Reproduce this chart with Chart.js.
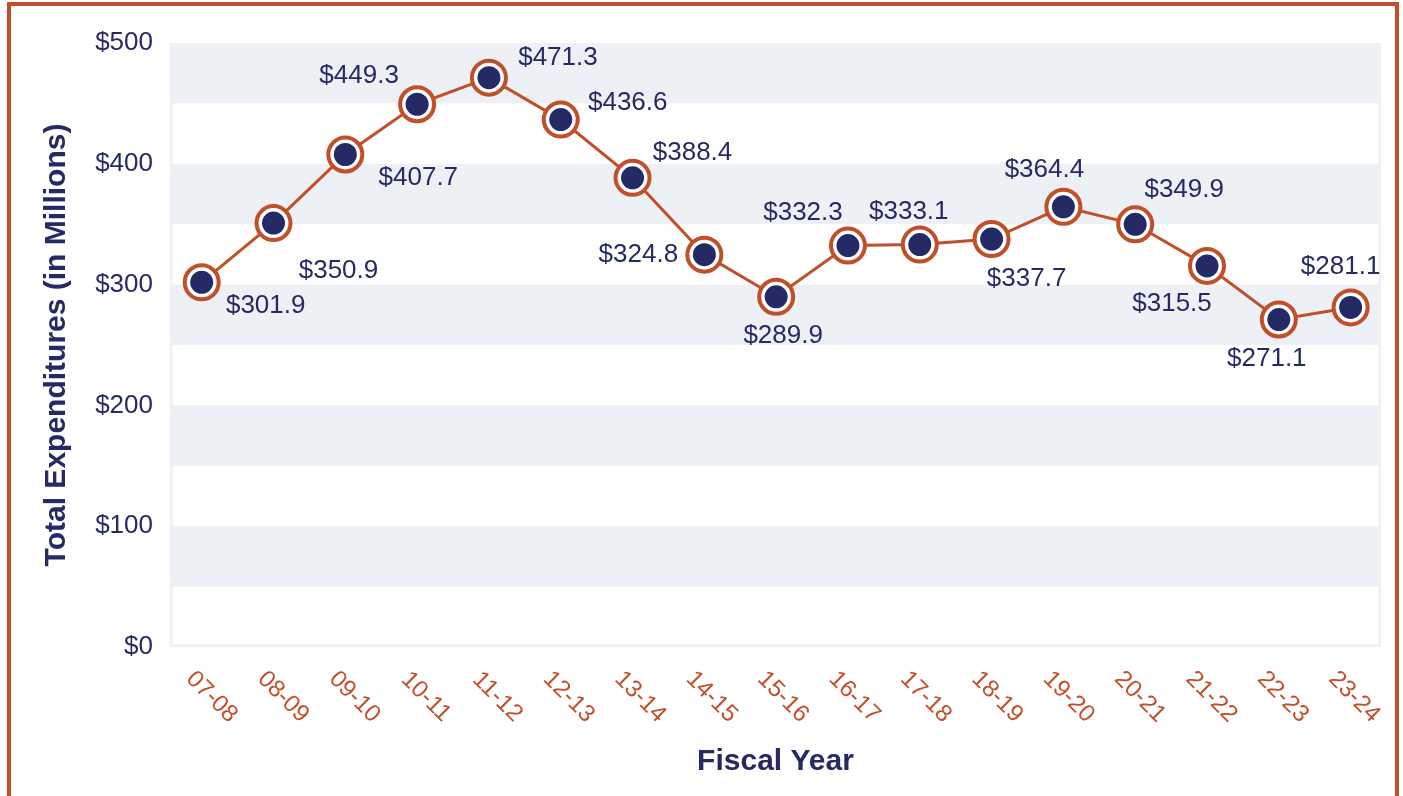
<!DOCTYPE html>
<html>
<head>
<meta charset="utf-8">
<script src="https://cdn.jsdelivr.net/npm/chart.js@4.4.1/dist/chart.umd.min.js"></script>
<style>
  html, body { margin: 0; padding: 0; overflow: hidden; background: #fff; }
  #frame { position: absolute; left: 7px; top: 2px; width: 1384px; height: 900px; border: 4px solid #c14f29; }
  #wrap { position: absolute; left: 0; top: 0; width: 1403px; height: 796px; }
</style>
</head>
<body>
<div id="frame"></div>
<div id="wrap"><canvas id="grafico"></canvas></div>
<script>
const anos = ['07-08', '08-09', '09-10', '10-11', '11-12', '12-13', '13-14', '14-15', '15-16',
              '16-17', '17-18', '18-19', '19-20', '20-21', '21-22', '22-23', '23-24'];
const gastos = [301.9, 350.9, 407.7, 449.3, 471.3, 436.6, 388.4, 324.8, 289.9,
                332.3, 333.1, 337.7, 364.4, 349.9, 315.5, 271.1, 281.1];
const valoresY = [0, 100, 200, 300, 400, 500];

// where each value label sits relative to its point (px)
const posRotulos = [[64, 24], [65, 48], [73, 23], [-58, -28], [69, -20], [67, -17], [60, -25],
                    [-66, 0], [7, 39], [-45, -33], [-11, -33], [35, 40], [-19, -37], [49, -34],
                    [-35, 38], [-12, 39], [-10, -41]];

const laranja = '#c14f29';
const azul = '#252a65';
const faixa = '#edf0f5';
const fonte = '"Liberation Sans", Arial, sans-serif';

const pontos = gastos.map((v, i) => ({ x: i, y: v }));

const faixas = {
  id: 'faixas',
  beforeDatasetsDraw(chart) {
    const { ctx, chartArea: a, scales: { y } } = chart;
    ctx.save();
    ctx.fillStyle = faixa;
    for (let v = 500; v > 0; v -= 100) {
      const t = y.getPixelForValue(v);
      const b = y.getPixelForValue(v - 50);
      ctx.fillRect(a.left, t, a.right - a.left, b - t);
    }
    ctx.strokeStyle = faixa;
    ctx.lineWidth = 2.5;
    ctx.strokeRect(a.left + 1.25, a.top + 1.25, a.right - a.left - 2.5, a.bottom - a.top - 2.5);
    ctx.restore();
  }
};

const rotulos = {
  id: 'rotulos',
  afterDraw(chart) {
    const { ctx, scales: { x } } = chart;
    const meta = chart.getDatasetMeta(1);
    ctx.save();
    ctx.fillStyle = azul;
    ctx.font = '26px ' + fonte;
    ctx.textAlign = 'center';
    ctx.textBaseline = 'middle';
    meta.data.forEach((p, i) => {
      ctx.fillText('$' + gastos[i].toFixed(1), p.x + posRotulos[i][0], p.y + posRotulos[i][1]);
    });
    // rotated fiscal year labels
    ctx.fillStyle = laranja;
    ctx.font = '24px ' + fonte;
    anos.forEach((ano, i) => {
      ctx.save();
      ctx.translate(x.getPixelForValue(i) + 10 - i * 0.4, 697);
      ctx.rotate(Math.PI / 4);
      ctx.fillText(ano, 0, 0);
      ctx.restore();
    });
    ctx.restore();
  }
};

new Chart(document.getElementById('grafico'), {
  type: 'line',
  data: {
    datasets: [
      {
        data: pontos,
        showLine: false,
        pointRadius: 11.5,
        pointBorderWidth: 0,
        pointBackgroundColor: azul,
        order: 0
      },
      {
        data: pontos,
        borderColor: laranja,
        borderWidth: 3,
        pointRadius: 17,
        pointBorderWidth: 4,
        pointBorderColor: laranja,
        pointBackgroundColor: '#fff',
        order: 1
      }
    ]
  },
  options: {
    responsive: true,
    maintainAspectRatio: false,
    animation: false,
    events: [],
    layout: { padding: { left: 0, right: 22, top: 43, bottom: 0 } },
    scales: {
      x: {
        type: 'linear',
        min: -0.4414,
        max: 16.423,
        grid: { display: false },
        border: { display: false },
        ticks: { display: false },
        afterFit(s) { s.height = 149; },
        title: {
          display: true,
          text: 'Fiscal Year',
          color: azul,
          font: { family: fonte, size: 30, weight: 'bold' },
          padding: 16
        }
      },
      y: {
        min: 0,
        max: 500,
        grid: { display: false, drawTicks: false },
        border: { display: false },
        afterBuildTicks(s) { s.ticks = valoresY.map(v => ({ value: v })); },
        afterFit(s) { s.width = 170; },
        ticks: {
          color: azul,
          font: { family: fonte, size: 26 },
          padding: 17,
          callback: v => '$' + v
        },
        title: {
          display: true,
          text: 'Total Expenditures (in Millions)',
          color: azul,
          font: { family: fonte, size: 30, weight: 'bold' },
          padding: 39
        }
      }
    },
    plugins: {
      legend: { display: false },
      tooltip: { enabled: false }
    }
  },
  plugins: [faixas, rotulos]
});
</script>
</body>
</html>
